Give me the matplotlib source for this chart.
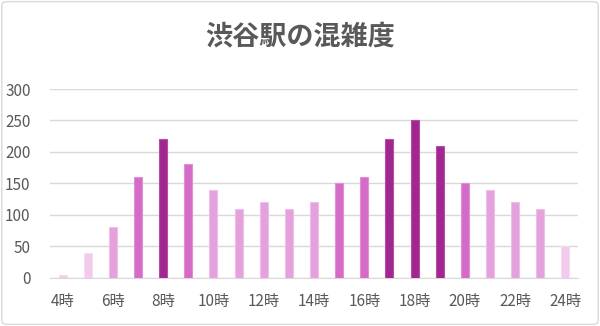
import matplotlib.pyplot as plt
from matplotlib.patches import FancyBboxPatch

plt.rcParams['font.family'] = ['Noto Sans CJK JP', 'DejaVu Sans']

# hourly congestion at Shibuya station
hours = list(range(4, 25))
congestion = [5, 40, 80, 160, 220, 180, 140, 110, 120, 110, 120,
              150, 160, 220, 250, 210, 150, 140, 120, 110, 50]
tick_hours = list(range(4, 25, 2))
tick_labels = [f'{h}時' for h in tick_hours]


def bar_color(v):
    if v <= 50:
        return '#F2CBEC', '#F6DDF2'
    if v <= 140:
        return '#E5A1DC', '#EEC0E8'
    if v < 200:
        return '#D56BC8', '#E08FD6'
    return '#A0278F', '#B44FA5'


fig = plt.figure(figsize=(6, 3.26), dpi=100)
ax = fig.add_axes([50 / 600, 1 - 277.7 / 326, 528 / 600, (277.7 - 89) / 326])

faces = [bar_color(v)[0] for v in congestion]
edges = [bar_color(v)[1] for v in congestion]
ax.bar(hours, congestion, width=0.32, color=faces, edgecolor=edges, linewidth=0.8, zorder=3)

ax.set_xlim(3.5, 24.5)
ax.set_ylim(0, 300)
ax.set_yticks(range(0, 301, 50))
ax.set_xticks(tick_hours)
ax.set_xticklabels(tick_labels)
ax.grid(axis='y', color='#D9D9D9', linewidth=1, zorder=0)
for s in ['top', 'right', 'left']:
    ax.spines[s].set_visible(False)
ax.spines['bottom'].set_color('#D9D9D9')
ax.tick_params(axis='both', length=0, labelsize=11, colors='#595959')
ax.tick_params(axis='x', pad=11)
ax.tick_params(axis='y', pad=14)

fig.text(0.5, 1 - 37 / 326, '渋谷駅の混雑度', ha='center', va='center',
         fontsize=19.5, fontweight='bold', color='#595959')

# outer frame
frame = FancyBboxPatch((0.003, 0.005), 0.994, 0.99, boxstyle='round,pad=0,rounding_size=0.01',
                       transform=fig.transFigure, facecolor='none', edgecolor='#D9D9D9', linewidth=1)
fig.patches.append(frame)

fig.savefig('out.png', dpi=100)
